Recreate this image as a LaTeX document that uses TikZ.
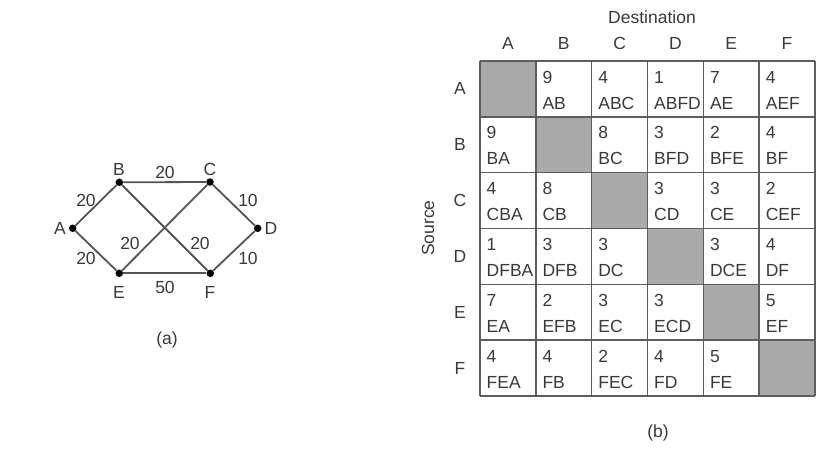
\documentclass[tikz,border=0pt]{standalone}
\usepackage{fontspec}
\setmainfont{Liberation Sans}
\definecolor{edgecol}{HTML}{555555}
\definecolor{gridcol}{HTML}{5E5E5E}
\definecolor{cellgray}{HTML}{A9A9A9}
\definecolor{txt}{HTML}{3A3A3A}
\begin{document}
\begin{tikzpicture}[x=1pt,y=-1pt,
  vtx/.style={circle,fill=black,inner sep=0pt,minimum size=7.5pt},
  lbl/.style={font=\fontsize{17.5}{17.5}\selectfont,text=txt,inner sep=0pt},
  edge/.style={draw=edgecol,line width=1.8pt},
  cellnum/.style={font=\fontsize{17.5}{17.5}\selectfont,text=txt,anchor=west,inner sep=0pt},
  gridline/.style={draw=gridcol,line width=1.4pt}]
\useasboundingbox (0,0) rectangle (820,469);
\fill[white] (0,0) rectangle (820,469);
% ---------- graph (a)
\node[vtx] (A) at (72.7,228.3) {};
\node[vtx] (B) at (119.3,182.3) {};
\node[vtx] (C) at (210,182) {};
\node[vtx] (D) at (257.7,228.3) {};
\node[vtx] (E) at (119.3,273.3) {};
\node[vtx] (F) at (210.3,273.3) {};
\draw[edge] (A) -- (B);
\draw[edge] (A) -- (E);
\draw[edge] (B) -- (C);
\draw[edge] (B) -- (F);
\draw[edge] (C) -- (E);
\draw[edge] (C) -- (D);
\draw[edge] (E) -- (F);
\draw[edge] (F) -- (D);
\node[lbl] (lA) at (60,228) {A};
\node[lbl] (lB) at (119,169) {B};
\node[lbl] (lC) at (210,169) {C};
\node[lbl] (lD) at (271,228) {D};
\node[lbl] (lE) at (119,292) {E};
\node[lbl] (lF) at (210,292) {F};
\node[lbl] (wAB) at (86,200) {20};
\node[lbl] (wBC) at (165,172) {20};
\node[lbl] (wCD) at (248,200) {10};
\node[lbl] (wAE) at (86,258) {20};
\node[lbl] (wFD) at (248,258) {10};
\node[lbl] (wCE) at (130,243) {20};
\node[lbl] (wBF) at (200,243) {20};
\node[lbl] (wEF) at (165,287) {50};
\node[lbl] (capa) at (167,340) {(a)};
% ---------- table (b)
\def\tx{480}\def\ty{61}\def\cw{55.83}
\foreach \i in {0,...,5}{
  \fill[cellgray] (\tx+\i*\cw,\ty+\i*\cw) rectangle (\tx+\i*\cw+\cw,\ty+\i*\cw+\cw);
}
\foreach \i in {0,...,6}{
  \draw[gridline] (\tx+\i*\cw,\ty) -- (\tx+\i*\cw,\ty+6*\cw);
  \draw[gridline] (\tx,\ty+\i*\cw) -- (\tx+6*\cw,\ty+\i*\cw);
}
\foreach \L [count=\i from 0] in {A,B,C,D,E,F}{
  \node[lbl] (col\L) at (\tx+\i*\cw+\cw/2,43) {\L};
  \node[lbl] (row\L) at (460,\ty+\i*\cw+\cw/2) {\L};
}
\node[lbl] (dest) at (652,17) {Destination};
\node[lbl,rotate=90] (src) at (428,228) {Source};
\node[lbl] (capb) at (658,433) {(b)};
\foreach \r/\c/\n/\p in {
  0/1/9/AB, 0/2/4/ABC, 0/3/1/ABFD, 0/4/7/AE, 0/5/4/AEF,
  1/0/9/BA, 1/2/8/BC, 1/3/3/BFD, 1/4/2/BFE, 1/5/4/BF,
  2/0/4/CBA, 2/1/8/CB, 2/3/3/CD, 2/4/3/CE, 2/5/2/CEF,
  3/0/1/DFBA, 3/1/3/DFB, 3/2/3/DC, 3/4/3/DCE, 3/5/4/DF,
  4/0/7/EA, 4/1/2/EFB, 4/2/3/EC, 4/3/3/ECD, 4/5/5/EF,
  5/0/4/FEA, 5/1/4/FB, 5/2/2/FEC, 5/3/4/FD, 5/4/5/FE}{
  \node[cellnum] (n\r\c) at (\tx+\c*\cw+6.5,\ty+\r*\cw+16) {\n};
  \node[cellnum] (p\r\c) at (\tx+\c*\cw+6.5,\ty+\r*\cw+42) {\p};
}
\end{tikzpicture}
\end{document}
